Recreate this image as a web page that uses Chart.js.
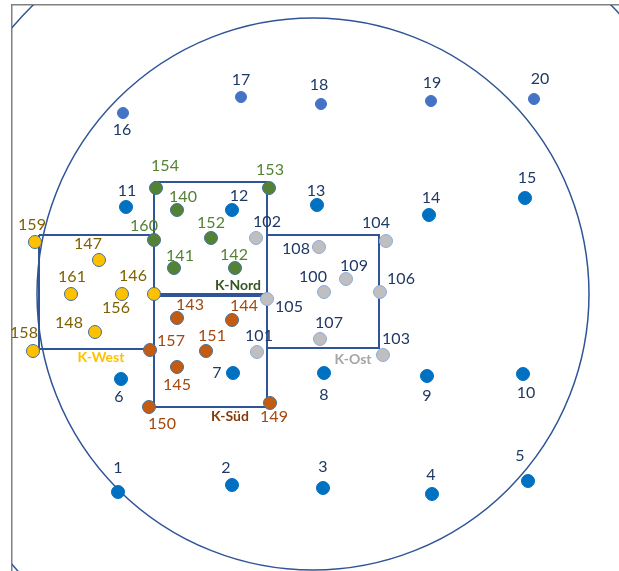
<!DOCTYPE html>
<html>
<head>
<meta charset="utf-8">
<script src="https://cdn.jsdelivr.net/npm/chart.js@4/dist/chart.umd.min.js"></script>
<style>
  html, body { margin: 0; padding: 0; background: #fff; }
  #wrap { width: 619px; height: 571px; }
</style>
</head>
<body>
<div id="wrap"><canvas id="chart"></canvas></div>
<script>
// map coordinates (read off the plan), y grows downwards
// Grundraster 1-15
const gridIds = ["1","2","3","4","5","6","7","8","9","10","11","12","13","14","15"];
const gridX = [118, 232, 323, 432, 528, 121, 233, 324, 427, 523, 126, 232, 317, 429, 525];
const gridY = [492, 485, 488, 494, 481, 379, 373, 373, 376, 374, 207, 210, 205, 215, 198];

// outer ring 16-20
const ringIds = ["16","17","18","19","20"];
const ringX = [123, 241, 321, 431, 534];
const ringY = [113, 97, 104, 101, 99];

// K-Nord
const nordIds = ["154","153","140","160","152","141","142"];
const nordX = [156, 269, 177, 154, 211, 174, 235];
const nordY = [188, 188, 210, 240, 238, 268, 268];

// K-West
const westIds = ["159","147","161","146","156","148","158"];
const westX = [35, 99, 71, 122, 154, 95, 33];
const westY = [242, 260, 294, 294, 294, 332, 351];

// K-Süd
const suedIds = ["143","144","157","151","145","150","149"];
const suedX = [177, 232, 150, 206, 177, 149, 270];
const suedY = [318, 320, 350, 351, 367, 407, 403];

// K-Ost
const ostIds = ["102","104","108","109","100","106","105","107","103","101"];
const ostX = [256, 386, 319, 346, 324, 380, 267, 320, 383, 257];
const ostY = [238, 241, 247, 279, 292, 292, 299, 339, 355, 352];

// zone rectangles
const zoneNames = ["K-Nord", "K-Süd", "K-West", "K-Ost"];
const zoneX0 = [154, 154, 39, 267];
const zoneX1 = [267, 267, 154, 379];
const zoneY0 = [182, 296, 235, 235];
const zoneY1 = [294, 407, 349, 348];

// circles: centre x, centre y, radius
const circleCX = [313, 322];
const circleCY = [294, 296];
const circleR = [276, 410];

// label placement (text centre relative to the dot, px)
const labelShift = {
  "1": [0, -24], "2": [-6, -17], "3": [0, -21], "4": [-1, -19], "5": [-8, -25],
  "6": [-2, 18], "7": [-16, 0], "8": [0, 22], "9": [0, 20], "10": [3, 19],
  "11": [1, -16], "12": [7, -14], "13": [-1, -14], "14": [2, -17], "15": [2, -20],
  "16": [-1, 17], "17": [0, -17], "18": [-2, -19], "19": [1, -18], "20": [6, -20],
  "154": [9, -22], "153": [1, -18], "140": [6, -13], "160": [-10, -14],
  "152": [0, -15], "141": [6, -12], "142": [-1, -13],
  "159": [-3, -17], "147": [-11, -16], "161": [1, -17], "146": [11, -18],
  "156": [-38, 14], "148": [-26, -9], "158": [-9, -18],
  "143": [13, -13], "144": [12, -14], "157": [21, -9], "151": [6, -15],
  "145": [0, 18], "150": [13, 17], "149": [4, 14],
  "102": [11, -16], "104": [-10, -18], "108": [-23, 2], "109": [8, -13],
  "100": [-11, -15], "106": [21, -13], "105": [22, 8], "107": [9, -16],
  "103": [13, -16], "101": [2, -16]
};
const zoneLabelPos = { "K-Nord": [238, 285], "K-Süd": [230, 416], "K-West": [101, 357], "K-Ost": [353, 359] };
const zoneLabelColor = { "K-Nord": "#375623", "K-Süd": "#843C0C", "K-West": "#FFC000", "K-Ost": "#A5A5A5" };

function pts(xs, ys) {
  return xs.map((x, i) => ({ x: x, y: ys[i] }));
}

function dotSet(ids, xs, ys, fill, edge, r, textColor) {
  return {
    type: "scatter",
    data: pts(xs, ys),
    ids: ids,
    textColor: textColor,
    backgroundColor: fill,
    borderColor: edge,
    borderWidth: 1,
    pointRadius: r,
    pointHoverRadius: r,
    order: 0,
  };
}

const rectSets = zoneNames.map((name, i) => ({
  type: "line",
  data: pts(
    [zoneX0[i], zoneX1[i], zoneX1[i], zoneX0[i], zoneX0[i]],
    [zoneY0[i], zoneY0[i], zoneY1[i], zoneY1[i], zoneY0[i]]
  ),
  borderColor: "#2F5597",
  borderWidth: 2,
  pointRadius: 0,
  fill: false,
  tension: 0,
  order: 5,
}));

const circles = {
  id: "circles",
  beforeDatasetsDraw(chart) {
    const { ctx, chartArea, scales } = chart;
    ctx.save();
    ctx.beginPath();
    ctx.rect(chartArea.left, chartArea.top, chartArea.right - chartArea.left, chartArea.bottom - chartArea.top);
    ctx.clip();
    ctx.strokeStyle = "#2F5597";
    ctx.lineWidth = 1.5;
    circleCX.forEach((cx, i) => {
      const px = scales.x.getPixelForValue(cx);
      const py = scales.y.getPixelForValue(circleCY[i]);
      const pr = scales.x.getPixelForValue(cx + circleR[i]) - px;
      ctx.beginPath();
      ctx.arc(px, py, pr, 0, Math.PI * 2);
      ctx.stroke();
    });
    ctx.restore();
  },
};

const labels = {
  id: "labels",
  afterDatasetsDraw(chart) {
    const { ctx, scales } = chart;
    ctx.save();
    ctx.textAlign = "center";
    ctx.textBaseline = "middle";
    chart.data.datasets.forEach((ds, di) => {
      if (!ds.ids) return;
      const meta = chart.getDatasetMeta(di);
      ctx.font = "16px Lato";
      ctx.fillStyle = ds.textColor;
      meta.data.forEach((p, i) => {
        const s = labelShift[ds.ids[i]] || [0, -16];
        ctx.fillText(ds.ids[i], p.x + s[0], p.y + s[1]);
      });
    });
    ctx.font = "bold 14px Lato";
    zoneNames.forEach((name) => {
      const pos = zoneLabelPos[name];
      ctx.fillStyle = zoneLabelColor[name];
      ctx.fillText(name, scales.x.getPixelForValue(pos[0]), scales.y.getPixelForValue(pos[1]));
    });
    ctx.restore();
  },
};

const ctx = document.getElementById("chart").getContext("2d");
const chart = new Chart(ctx, {
  data: {
    datasets: [
      ...rectSets,
      dotSet(gridIds, gridX, gridY, "#0070C0", "#0070C0", 6.5, "#1F3864"),
      dotSet(ringIds, ringX, ringY, "#4472C4", "#4472C4", 5.5, "#1F3864"),
      dotSet(nordIds, nordX, nordY, "#548235", "#41719C", 6.5, "#548235"),
      dotSet(westIds, westX, westY, "#FFC000", "#41719C", 6.5, "#7F6000"),
      dotSet(suedIds, suedX, suedY, "#C55A11", "#41719C", 6.5, "#A3480F"),
      dotSet(ostIds, ostX, ostY, "#BFBFBF", "#8FAADC", 6.5, "#1F3864"),
    ],
  },
  options: {
    responsive: true,
    maintainAspectRatio: false,
    animation: false,
    layout: { autoPadding: false, padding: { left: 12, top: 5, right: 0, bottom: 0 } },
    plugins: { legend: { display: false }, tooltip: { enabled: false } },
    scales: {
      x: {
        type: "linear",
        position: "top",
        min: 12,
        max: 619,
        grid: { display: false, drawTicks: false },
        ticks: { display: false },
        border: { display: true, color: "#808080", width: 1.5 },
      },
      y: {
        type: "linear",
        reverse: true,
        min: 5,
        max: 571,
        grid: { display: false, drawTicks: false },
        ticks: { display: false },
        border: { display: true, color: "#808080", width: 1.5 },
      },
    },
  },
  plugins: [circles, labels],
});
</script>
</body>
</html>
